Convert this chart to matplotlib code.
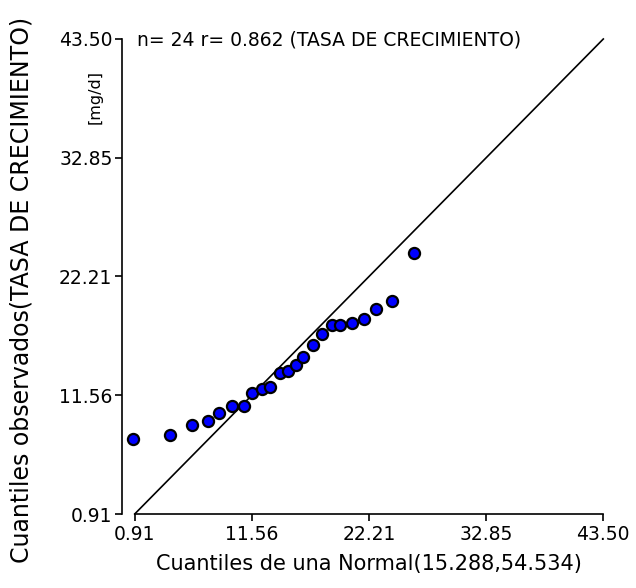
import matplotlib
matplotlib.use("Agg")
import matplotlib.pyplot as plt

x_quant = [0.78, 4.12, 6.09, 7.57, 8.60, 9.75, 10.82, 11.57, 12.48, 13.21, 14.12, 14.82,
           15.57, 16.23, 17.14, 17.93, 18.82, 19.57, 20.63, 21.75, 22.84, 24.30, 26.27]
y_obs = [7.61, 7.97, 8.86, 9.22, 9.94, 10.62, 10.62, 11.73, 12.09, 12.27, 13.53, 13.73,
         14.24, 14.96, 16.04, 17.08, 17.86, 17.83, 18.04, 18.37, 19.26, 19.98, 24.28]
ticks = [0.91, 11.56, 22.21, 32.85, 43.50]
tick_labels = ["0.91", "11.56", "22.21", "32.85", "43.50"]
lim = [0.91, 43.50]

plt.rcParams['font.family'] = ['DejaVu Sans']
fig = plt.figure(figsize=(6.36, 5.88), dpi=100)
ax = fig.add_axes([134.7/636, 1-514/588, (603.3-134.7)/636, (514-39)/588])

ax.plot(lim, lim, color='black', lw=1.2, zorder=2, clip_on=False)
ax.plot(x_quant, y_obs, 'o', ms=8, mfc='#0000FF', mec='black', mew=1.6, zorder=3, clip_on=False)

ax.set_xlim(lim)
ax.set_ylim(lim)
ax.set_xticks(ticks)
ax.set_xticklabels(tick_labels)
ax.set_yticks(ticks)
ax.set_yticklabels(tick_labels)
for s in ['top', 'right']:
    ax.spines[s].set_visible(False)
ax.spines['left'].set_position(('outward', 9))
for s in ['left', 'bottom']:
    ax.spines[s].set_linewidth(1.2)
ax.tick_params(axis='both', direction='out', length=5, width=1.2, labelsize=13.5, colors='black')
ax.tick_params(axis='x', pad=3)
ax.tick_params(axis='y', pad=2)

ax.set_xlabel("Cuantiles de una Normal(15.288,54.534)", fontsize=15, labelpad=7)
fig.text(22/636, 1-290/588, "Cuantiles observados(TASA DE CRECIMIENTO)", rotation=90,
         fontsize=17, ha='center', va='center')
fig.text(95/636, 1-97/588, "[mg/d]", rotation=90, fontsize=11.5, ha='center', va='center')
fig.text(137/636, 1-40/588, "n= 24 r= 0.862 (TASA DE CRECIMIENTO)", fontsize=13.5,
         ha='left', va='center')

fig.savefig("out.png", dpi=100)
